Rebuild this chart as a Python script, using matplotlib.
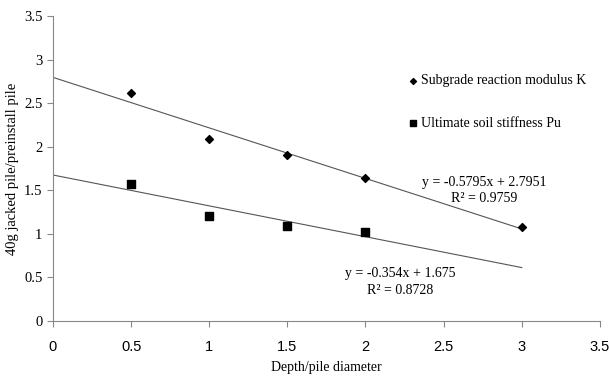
import matplotlib.pyplot as plt
import numpy as np

# data
depth_k = [0.5, 1.0, 1.5, 2.0, 3.0]
ratio_k = [2.62, 2.09, 1.90, 1.64, 1.08]
depth_pu = [0.5, 1.0, 1.5, 2.0]
ratio_pu = [1.57, 1.21, 1.09, 1.02]

# trendline coefficients as printed on the chart
fit_k = (-0.5795, 2.7951, 0.9759)
fit_pu = (-0.354, 1.675, 0.8728)

serif = "Liberation Serif"

fig = plt.figure(figsize=(6.09, 3.79), dpi=100)
ax = fig.add_axes([0.087, 0.153, 0.898, 0.805])

ax.scatter(depth_k, ratio_k, marker="D", s=16, color="black", zorder=3,
           label="Subgrade reaction modulus K")
ax.scatter(depth_pu, ratio_pu, marker="s", s=30, color="black", zorder=3,
           label="Ultimate soil stiffness Pu")

xs = np.array([0, 3])
ax.plot(xs, fit_k[0] * xs + fit_k[1], color="#555555", lw=0.8)
ax.plot(xs, fit_pu[0] * xs + fit_pu[1], color="#555555", lw=0.8)

ax.text(2.76, 1.66, f"y = {fit_k[0]}x + {fit_k[1]}\nR² = {fit_k[2]}",
        ha="center", va="top", fontsize=10, family=serif, linespacing=1.3)
ax.text(2.22, 0.62, f"y = {fit_pu[0]}x + {fit_pu[1]}\nR² = {fit_pu[2]}",
        ha="center", va="top", fontsize=10, family=serif, linespacing=1.4)

ax.set_xlim(0, 3.5)
ax.set_ylim(0, 3.5)
ax.set_xticks(np.arange(0, 3.51, 0.5))
ax.set_yticks(np.arange(0, 3.51, 0.5))
ax.set_xticklabels(["0", "0.5", "1", "1.5", "2", "2.5", "3", "3.5"],
                   fontsize=10.5, family="Liberation Sans")
ax.set_yticklabels(["0", "0.5", "1", "1.5", "2", "2.5", "3", "3.5"],
                   fontsize=10.5, family=serif)
ax.tick_params(axis="both", color="#888888", length=4, width=0.8)
ax.tick_params(axis="x", pad=10)

for s in ["top", "right"]:
    ax.spines[s].set_visible(False)
for s in ["left", "bottom"]:
    ax.spines[s].set_color("#888888")
    ax.spines[s].set_linewidth(0.8)

ax.set_xlabel("Depth/pile diameter", fontsize=10, family=serif, labelpad=5)
ax.set_ylabel("40g jacked pile/preinstall pile", fontsize=10.5, family=serif,
              labelpad=4)

ax.legend(loc="upper left", bbox_to_anchor=(0.625, 0.85), frameon=False,
          prop={"family": serif, "size": 10}, handletextpad=0.2,
          labelspacing=2.15, handlelength=0.8, markerscale=0.75)

fig.savefig("out.png", dpi=100)
